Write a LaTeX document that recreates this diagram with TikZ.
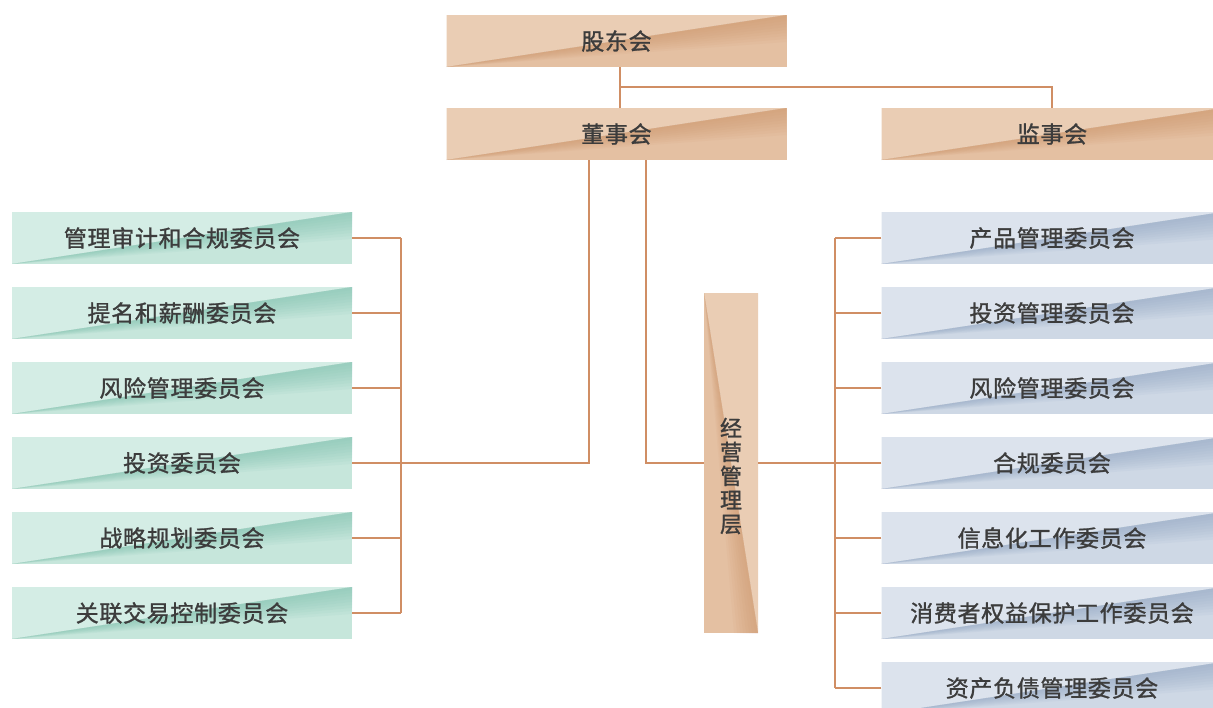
\documentclass[tikz,border=0pt]{standalone}
\usepackage{fontspec}
\newfontfamily\cjk[FakeBold=1.2,LetterSpace=3]{Noto Sans CJK SC}
\definecolor{lineC}{RGB}{208,142,100}
\definecolor{txt}{RGB}{60,60,60}
\definecolor{tanA}{RGB}{234,205,180}
\definecolor{tanB}{RGB}{228,192,162}
\definecolor{tanC}{RGB}{205,148,104}
\definecolor{grnA}{RGB}{212,237,229}
\definecolor{grnB}{RGB}{198,230,219}
\definecolor{grnC}{RGB}{120,190,170}
\definecolor{bluA}{RGB}{220,227,237}
\definecolor{bluB}{RGB}{206,216,229}
\definecolor{bluC}{RGB}{140,162,192}
\tikzset{
  conn/.style={draw=lineC, line width=1.8pt},
  hbox/.style n args={3}{draw=none, fill=#2, minimum width=340, minimum height=52,
    inner sep=0, text=txt, font=\cjk\fontsize{23}{25}\selectfont,
    path picture={
      \fill[#1] (path picture bounding box.south west) -- (path picture bounding box.north west)
        -- (path picture bounding box.north east) -- cycle;
      \foreach \h in {3,6,...,27}{
      \fill[#3, opacity=0.08] (path picture bounding box.south west) -- (path picture bounding box.north east)
        -- ([yshift=-\h]path picture bounding box.north east) -- cycle;}
    }},
  tanbox/.style={hbox={tanA}{tanB}{tanC}},
  grnbox/.style={hbox={grnA}{grnB}{grnC}},
  blubox/.style={hbox={bluA}{bluB}{bluC}},
  vbox/.style={draw=none, fill=tanB, minimum width=54, minimum height=340, inner sep=0,
    path picture={
      \fill[tanA] (path picture bounding box.north west) -- (path picture bounding box.north east)
        -- (path picture bounding box.south east) -- cycle;
      \foreach \h in {3,6,...,24}{
      \fill[tanC, opacity=0.08] (path picture bounding box.north west) -- (path picture bounding box.south east)
        -- ([xshift=-\h]path picture bounding box.south east) -- cycle;}
    }}
}
\begin{document}
\begin{tikzpicture}[x=1pt,y=-1pt]
\useasboundingbox[fill=white] (0,0) rectangle (1213,707);
% top
\node[tanbox] (gd) at (616.5,41) {股东会};
\node[tanbox] (ds) at (616.5,134) {董事会};
\node[tanbox, minimum width=341] (js) at (1052,134) {监事会};
% left committees
\node[grnbox] (L1) at (182,238) {管理审计和合规委员会};
\node[grnbox] (L2) at (182,313) {提名和薪酬委员会};
\node[grnbox] (L3) at (182,388) {风险管理委员会};
\node[grnbox] (L4) at (182,463) {投资委员会};
\node[grnbox] (L5) at (182,538) {战略规划委员会};
\node[grnbox] (L6) at (182,613) {关联交易控制委员会};
% right committees
\node[blubox, minimum width=341] (R1) at (1052,238) {产品管理委员会};
\node[blubox, minimum width=341] (R2) at (1052,313) {投资管理委员会};
\node[blubox, minimum width=341] (R3) at (1052,388) {风险管理委员会};
\node[blubox, minimum width=341] (R4) at (1052,463) {合规委员会};
\node[blubox, minimum width=341] (R5) at (1052,538) {信息化工作委员会};
\node[blubox, minimum width=341] (R6) at (1052,613) {消费者权益保护工作委员会};
\node[blubox, minimum width=341] (R7) at (1052,688) {资产负债管理委员会};
% management
\node[vbox] (mg) at (731,463) {};
\node[text=txt, font=\cjk\fontsize{22}{24}\selectfont, align=center, inner sep=0]
  (mgt) at (731,476) {经\\营\\管\\理\\层};
% helper coordinates
\coordinate (xt) at (620,87);
\coordinate (xl) at (589,0);
\coordinate (xr) at (646,0);
\coordinate (lb) at (401,0);
\coordinate (rb) at (835,0);
% connectors
\draw[conn] (gd.south -| xt) -- (ds.north -| xt);
\draw[conn] (xt) -| (js.north);
\draw[conn] (ds.south -| xl) |- (L4.east -| lb);
\draw[conn] (ds.south -| xr) |- (mg.west);
\draw[conn] (mg.east) -- (R4.west -| rb);
\draw[conn] (L1.east -| lb) -- (L6.east -| lb);
\draw[conn] (R1.west -| rb) -- (R7.west -| rb);
\foreach \n in {L1,L2,L3,L4,L5,L6} \draw[conn] (\n.east) -- (\n.east -| lb);
\foreach \n in {R1,R2,R3,R4,R5,R6,R7} \draw[conn] (\n.west) -- (\n.west -| rb);
\end{tikzpicture}
\end{document}
